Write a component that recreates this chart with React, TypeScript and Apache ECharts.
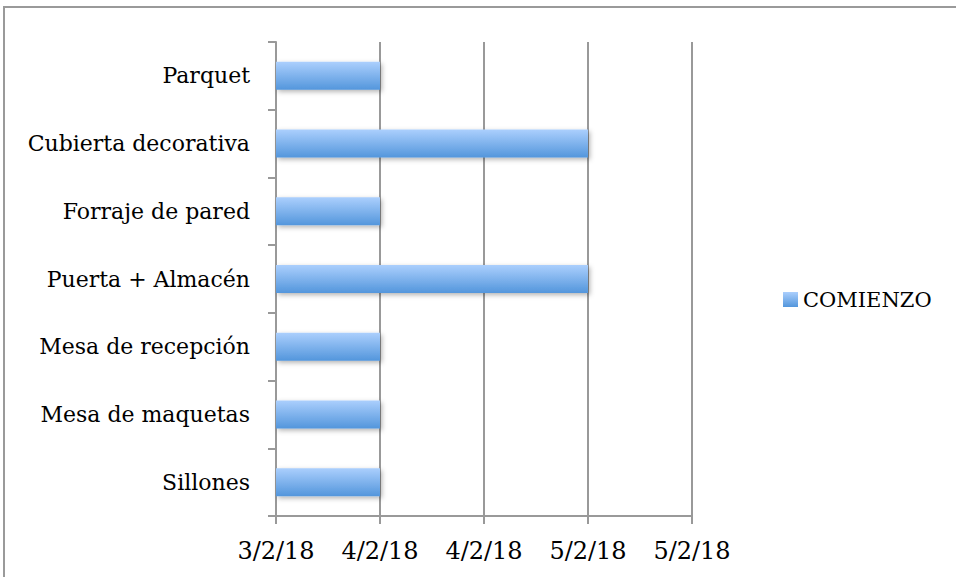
import React, { useEffect, useRef } from "react";
import * as echarts from "echarts";

const categories = [
  "Sillones",
  "Mesa de maquetas",
  "Mesa de recepción",
  "Puerta + Almacén",
  "Forraje de pared",
  "Cubierta decorativa",
  "Parquet",
];
const comienzoValues = [1, 1, 1, 3, 1, 3, 1];
const tickLabels = ["3/2/18", "4/2/18", "4/2/18", "5/2/18", "5/2/18"];
const seriesName = "COMIENZO";

const FONT = "DejaVu Serif";

export default function App() {
  const ref = useRef<HTMLDivElement>(null);
  useEffect(() => {
    if (!ref.current) return;
    const chart = echarts.init(ref.current, null, { renderer: "svg" });
    const grad = new echarts.graphic.LinearGradient(0, 0, 0, 1, [
      { offset: 0, color: "#abcffd" },
      { offset: 1, color: "#5396dc" },
    ]);
    chart.setOption({
      animation: false,
      backgroundColor: "#ffffff",
      textStyle: { fontFamily: FONT },
      graphic: [
        {
          type: "rect",
          z: 100,
          shape: { x: 4, y: 7, width: 1200, height: 1200 },
          style: { fill: "none", stroke: "#9a9a9a", lineWidth: 2 },
          silent: true,
        },
      ],
      grid: { left: 276, right: 264, top: 42, bottom: 61, containLabel: false },
      legend: {
        show: true,
        orient: "vertical",
        left: 783,
        top: 289,
        padding: 0,
        itemWidth: 15,
        itemHeight: 15,
        itemGap: 5,
        icon: "rect",
        textStyle: { fontFamily: FONT, fontSize: 21, color: "#000" },
        data: [seriesName],
      },
      xAxis: {
        type: "value",
        min: 0,
        max: 4,
        interval: 1,
        axisLine: { show: true, lineStyle: { color: "#999", width: 2 } },
        axisTick: { show: true, length: 8, lineStyle: { color: "#999", width: 2 } },
        splitLine: { show: true, lineStyle: { color: "#999", width: 2 } },
        axisLabel: {
          margin: 23,
          fontFamily: FONT,
          fontSize: 24,
          color: "#000",
          formatter: (v: number) => tickLabels[Math.round(v)] ?? "",
        },
      },
      yAxis: {
        type: "category",
        data: categories,
        axisLine: { show: true, lineStyle: { color: "#999", width: 2 } },
        axisTick: { show: true, length: 8, lineStyle: { color: "#999", width: 2 } },
        axisLabel: {
          margin: 26,
          padding: [6, 0, 0, 0],
          fontFamily: FONT,
          fontSize: 22,
          color: "#000",
        },
      },
      series: [
        {
          name: seriesName,
          type: "bar",
          data: comienzoValues,
          barWidth: 28,
          itemStyle: {
            color: grad,
            shadowColor: "rgba(0,0,0,0.3)",
            shadowBlur: 5,
            shadowOffsetX: 2,
            shadowOffsetY: 2,
          },
        },
      ],
    });
    return () => chart.dispose();
  }, []);
  return (
    <div
      ref={ref}
      style={{ position: "absolute", left: 0, top: 0, width: 956, height: 577 }}
    />
  );
}
